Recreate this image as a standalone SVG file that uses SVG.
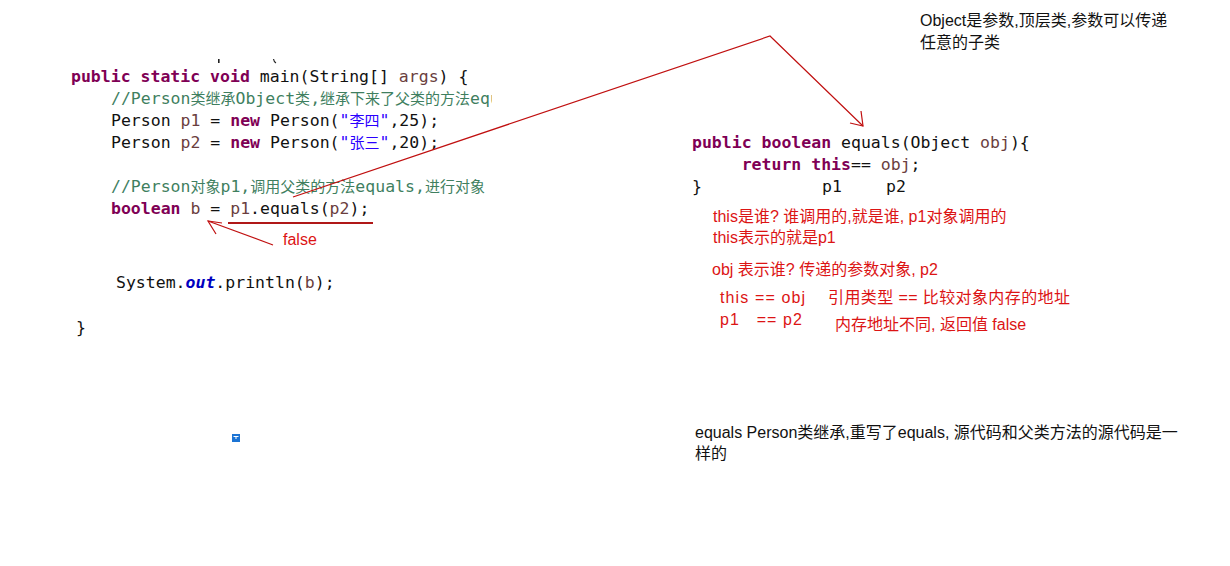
<svg xmlns="http://www.w3.org/2000/svg" width="1230" height="566" viewBox="0 0 1230 566">
<defs>
<style>
.code{font-family:"DejaVu Sans Mono","Liberation Mono",monospace;font-size:16.5px;fill:#111;white-space:pre}
.kw{fill:#7f0055;font-weight:bold}
.var{fill:#6a3e3e}
.cm{fill:#3f7f5f}
.str{fill:#2a00ff}
.fld{fill:#0000c0;font-weight:bold;font-style:italic}
.cj{font-family:"Noto Sans CJK SC",sans-serif;font-size:15px}
.note{font-family:"Liberation Sans","Noto Sans CJK SC",sans-serif;font-size:16px;white-space:pre}
.red{fill:#dc1414}
.blk{fill:#111}
.arrow{fill:none;stroke:#c01010;stroke-width:1.2}
</style>
<clipPath id="clipL"><rect x="0" y="0" width="492" height="566"/></clipPath>
</defs>
<rect width="1230" height="566" fill="#fff"/>

<g id="main-code" clip-path="url(#clipL)">
<rect x="218" y="59" width="1.6" height="4" fill="#222"/>
<path d="M273.5 59 q0.5 3 2.5 4" stroke="#222" stroke-width="1.2" fill="none"/>
<text class="code" x="71" y="82"><tspan class="kw">public</tspan> <tspan class="kw">static</tspan> <tspan class="kw">void</tspan> main(String[] <tspan class="var">args</tspan>) {</text>
<text class="code cm" x="111" y="104">//Person<tspan class="cj">类继承</tspan>Object<tspan class="cj">类</tspan>,<tspan class="cj">继承下来了父类的方法</tspan>equals</text>
<text class="code" x="111" y="126">Person <tspan class="var">p1</tspan> = <tspan class="kw">new</tspan> Person(<tspan class="str">"<tspan class="cj">李四</tspan>"</tspan>,25);</text>
<text class="code" x="111" y="148">Person <tspan class="var">p2</tspan> = <tspan class="kw">new</tspan> Person(<tspan class="str">"<tspan class="cj">张三</tspan>"</tspan>,20);</text>
<text class="code cm" x="111" y="192">//Person<tspan class="cj">对象</tspan>p1,<tspan class="cj">调用父类的方法</tspan>equals,<tspan class="cj">进行对象</tspan></text>
<text class="code" x="111" y="214"><tspan class="kw">boolean</tspan> <tspan class="var">b</tspan> = <tspan class="var">p1</tspan>.equals(<tspan class="var">p2</tspan>);</text>
<text class="code" x="116" y="288">System.<tspan class="fld">out</tspan>.println(<tspan class="var">b</tspan>);</text>
<text class="code" x="76" y="333">}</text>
</g>

<g id="equals-code">
<text class="code" x="692" y="148"><tspan class="kw">public</tspan> <tspan class="kw">boolean</tspan> equals(Object <tspan class="var">obj</tspan>){</text>
<text class="code" x="692" y="170">     <tspan class="kw">return</tspan> <tspan class="kw">this</tspan>== <tspan class="var">obj</tspan>;</text>
<text class="code" x="692" y="192">}</text>
<text class="code" x="822" y="192">p1</text>
<text class="code" x="886" y="192">p2</text>
</g>

<g id="false-label">
<text class="note red" x="283" y="245">false</text>
</g>

<g id="note-object">
<text class="note blk" x="920" y="26">Object是参数,顶层类,参数可以传递</text>
<text class="note blk" x="920" y="48">任意的子类</text>
</g>

<g id="note-this">
<text class="note red" x="713" y="222">this是谁? 谁调用的,就是谁, p1对象调用的</text>
<text class="note red" x="713" y="243">this表示的就是p1</text>
<text class="note red" x="712" y="275">obj 表示谁? 传递的参数对象, p2</text>
<text class="note red" x="720" y="303" textLength="85" lengthAdjust="spacing">this == obj</text>
<text class="note red" x="828" y="303" textLength="242" lengthAdjust="spacing">引用类型 == 比较对象内存的地址</text>
<text class="note red" x="720" y="325" textLength="82" lengthAdjust="spacing">p1   == p2</text>
<text class="note red" x="835" y="330">内存地址不同, 返回值 false</text>
</g>

<g id="note-override">
<text class="note blk" x="695" y="438">equals Person类继承,重写了equals, 源代码和父类方法的源代码是一</text>
<text class="note blk" x="695" y="459">样的</text>
</g>

<g id="icon">
<rect x="232" y="434" width="8" height="8" fill="#1c74d4"/>
<rect x="233.5" y="436" width="5" height="1" fill="#fff"/>
<rect x="235.5" y="437" width="1" height="2" fill="#fff"/>
</g>

<g id="connectors">
<line x1="228" y1="223" x2="373" y2="223" stroke="#b01818" stroke-width="2"/>
<polyline class="arrow" points="293,197 770,36 863,126"/>
<polyline class="arrow" points="850,123 863,126 861,111"/>
<line class="arrow" x1="273" y1="245" x2="208" y2="221"/>
<polyline class="arrow" points="216,234 208,221 222,223"/>
</g>
</svg>
